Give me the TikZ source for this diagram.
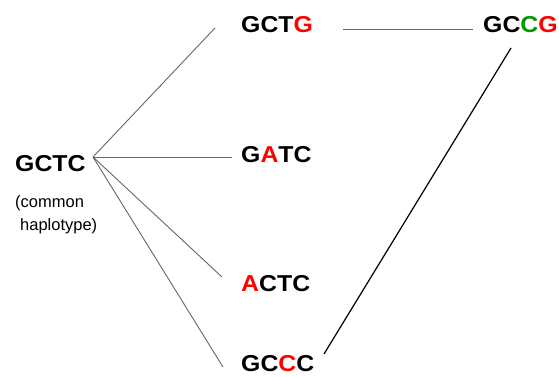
\documentclass[tikz,border=0pt]{standalone}
\usepackage{fontspec}
\setmainfont{Liberation Sans}

\definecolor{mutred}{RGB}{255,0,0}
\definecolor{mutgreen}{RGB}{0,153,0}

\tikzset{
	hap/.style={anchor=base west, inner sep=0pt, font=\fontsize{23}{23}\selectfont\bfseries, xscale=1.08, transform shape},
	note/.style={anchor=base west, inner sep=0pt, font=\fontsize{16.5}{16.5}\selectfont},
	link/.style={draw=black!60, line width=0.9pt},
}

\begin{document}
\begin{tikzpicture}[x=1pt, y=-1pt]
		\useasboundingbox (0,0) rectangle (559,377);

		\node[hap] (gctc) at (15,171) {GCTC};
		\node[note] (note1) at (15,207) {(common};
		\node[note] (note2) at (20,230) {haplotype)};

		\node[hap] (gctg) at (241,33) {GCT\textcolor{mutred}{G}};
		\node[hap] (gatc) at (241,162) {G\textcolor{mutred}{A}TC};
		\node[hap] (actc) at (241,291) {\textcolor{mutred}{A}CTC};
		\node[hap] (gccc) at (241,371) {GC\textcolor{mutred}{C}C};
		\node[hap] (gccg) at (483,33) {GC\textcolor{mutgreen}{C}\textcolor{mutred}{G}};

		% line ends
		\coordinate (hub) at (93,157);
		\coordinate (e1) at (215,28);
		\coordinate (e2) at (232,157);
		\coordinate (e3) at (222,277);
		\coordinate (e4) at (223,367);
		\coordinate (t1) at (343,29);
		\coordinate (t2) at (473,29);
		\coordinate (b1) at (324,354);
		\coordinate (b2) at (511,48);

		\foreach \e in {e1,e2,e3,e4}
			\draw[link] (hub) -- (\e);

		\draw[link] (t1) -- (t2);
		\draw[line width=1.2pt] (b1) -- (b2);
	\end{tikzpicture}
\end{document}
